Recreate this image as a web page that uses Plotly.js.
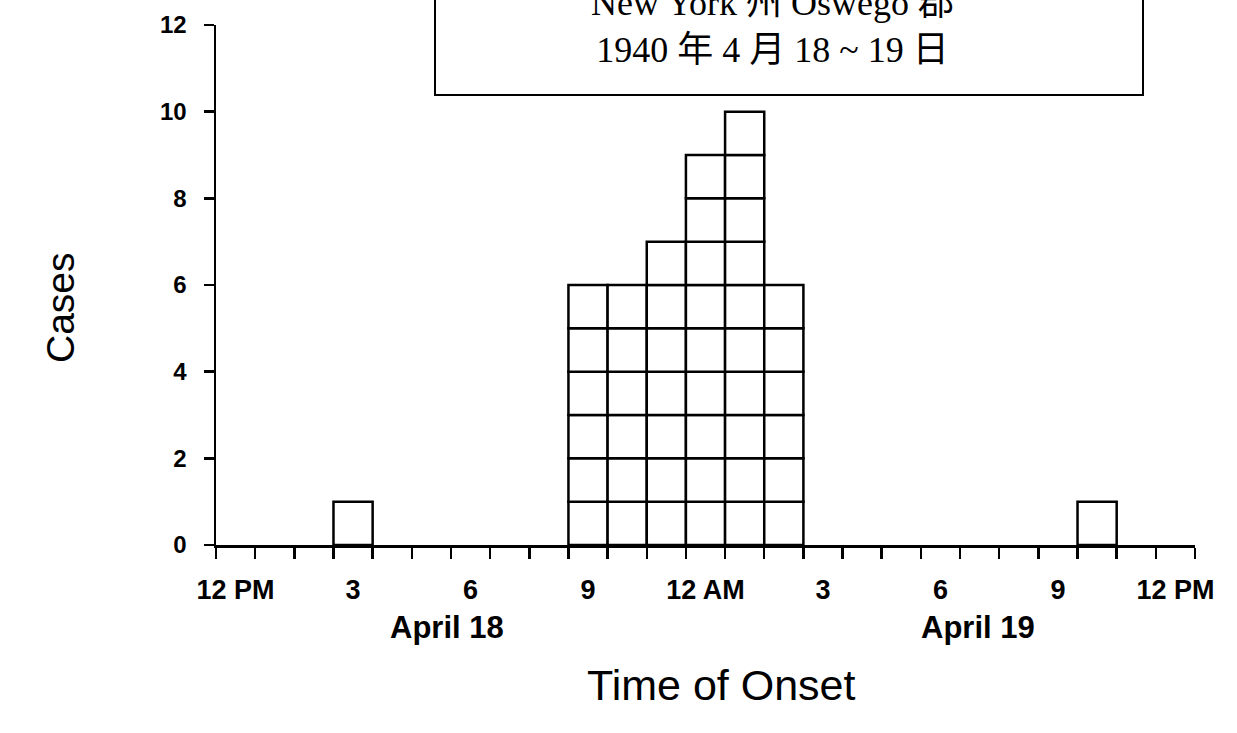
<!DOCTYPE html>
<html>
<head>
<meta charset="utf-8">
<script src="https://cdn.plot.ly/plotly-3.0.1.min.js"></script>
<style>
  html, body { margin: 0; padding: 0; background: #fff; }
  #chart { width: 1237px; height: 733px; }
</style>
</head>
<body>
<div id="chart"></div>
<script>
// Hours since 12 PM, April 18 (one-hour bins)
const onsetHours = [0,1,2,3,4,5,6,7,8,9,10,11,12,13,14,15,16,17,18,19,20,21,22,23,24];
// Number of cases with onset in each hour
const caseCounts = [0,0,0,1,0,0,0,0,0,6,6,7,9,10,6,0,0,0,0,0,0,0,1,0,0];
// Labelled hours and their text
const labelHours = [0,3,6,9,12,15,18,21,24];
const labelTexts = ['12 PM','3','6','9','12 AM','3','6','9','12 PM'];
const dayLabels = ['April 18','April 19'];
const yTicks = [0,2,4,6,8,10,12];
const titleLines = ['New York 州 Oswego 郡','1940 年 4 月 18 ~ 19 日'];

const maxCount = Math.max(...caseCounts);
const traces = [];
for (let k = 1; k <= maxCount; k++) {
  traces.push({
    type: 'bar',
    x: onsetHours,
    y: caseCounts.map(c => c >= k ? 1 : null),
    base: k - 1,
    width: 1,
    offset: 0,
    marker: { color: '#ffffff', line: { color: '#000000', width: 2.5 } },
    hoverinfo: 'skip',
    showlegend: false
  });
}

const sans = 'Liberation Sans, Arial, sans-serif';

const layout = {
  width: 1237, height: 733,
  margin: { l: 216, r: 42, t: 25, b: 188 },
  paper_bgcolor: '#fff', plot_bgcolor: '#fff',
  barmode: 'overlay',
  showlegend: false,
  xaxis: {
    range: [0, 25],
    tickmode: 'array',
    tickvals: labelHours.map(h => h + 0.5),
    ticktext: labelTexts,
    ticks: '',
    ticklabelstandoff: 19,
    tickfont: { family: sans, size: 27, color: '#000', weight: 'bold' },
    showline: true, linecolor: '#000', linewidth: 2.5,
    showgrid: false, zeroline: false,
    minor: { tickmode: 'linear', tick0: 0, dtick: 1, ticks: 'outside', ticklen: 11, tickwidth: 2.5, tickcolor: '#000', showgrid: false }
  },
  yaxis: {
    range: [0, 12],
    tickmode: 'array',
    tickvals: yTicks,
    ticks: 'outside', ticklen: 10, tickwidth: 2.5, tickcolor: '#000',
    ticklabelstandoff: 12,
    tickfont: { family: sans, size: 24, color: '#000', weight: 'bold' },
    showline: true, linecolor: '#000', linewidth: 2.5,
    showgrid: false, zeroline: false
  },
  shapes: [{
    type: 'rect', xref: 'paper', yref: 'paper',
    x0: (435 - 216) / 979, x1: (1143 - 216) / 979,
    y0: (545 - 95) / 520, y1: (545 + 20) / 520,
    line: { color: '#000', width: 2 }, fillcolor: 'rgba(0,0,0,0)'
  }],
  annotations: [
    {
      text: titleLines.join('<br>'), xref: 'paper', yref: 'paper',
      x: (772 - 216) / 979, y: (545 - 27) / 520, xanchor: 'center', yanchor: 'middle',
      showarrow: false, align: 'center',
      font: { family: 'Liberation Serif, Times New Roman, Noto Sans CJK SC, serif', size: 36, color: '#000' }
    },
    {
      text: dayLabels[0], xref: 'x', yref: 'paper', x: 5.9, y: (545 - 628) / 520,
      xanchor: 'center', yanchor: 'middle', showarrow: false,
      font: { family: sans, size: 31, color: '#000', weight: 'bold' }
    },
    {
      text: dayLabels[1], xref: 'x', yref: 'paper', x: 19.45, y: (545 - 628) / 520,
      xanchor: 'center', yanchor: 'middle', showarrow: false,
      font: { family: sans, size: 31, color: '#000', weight: 'bold' }
    },
    {
      text: 'Time of Onset', xref: 'paper', yref: 'paper', x: (721 - 216) / 979, y: (545 - 685) / 520,
      xanchor: 'center', yanchor: 'middle', showarrow: false,
      font: { family: sans, size: 43, color: '#000' }
    },
    {
      text: 'Cases', xref: 'paper', yref: 'paper', x: (60 - 216) / 979, y: (545 - 308) / 520,
      xanchor: 'center', yanchor: 'middle', showarrow: false, textangle: -90,
      font: { family: sans, size: 39, color: '#000' }
    }
  ]
};

Plotly.newPlot('chart', traces, layout, { displayModeBar: false, staticPlot: true });
</script>
</body>
</html>
